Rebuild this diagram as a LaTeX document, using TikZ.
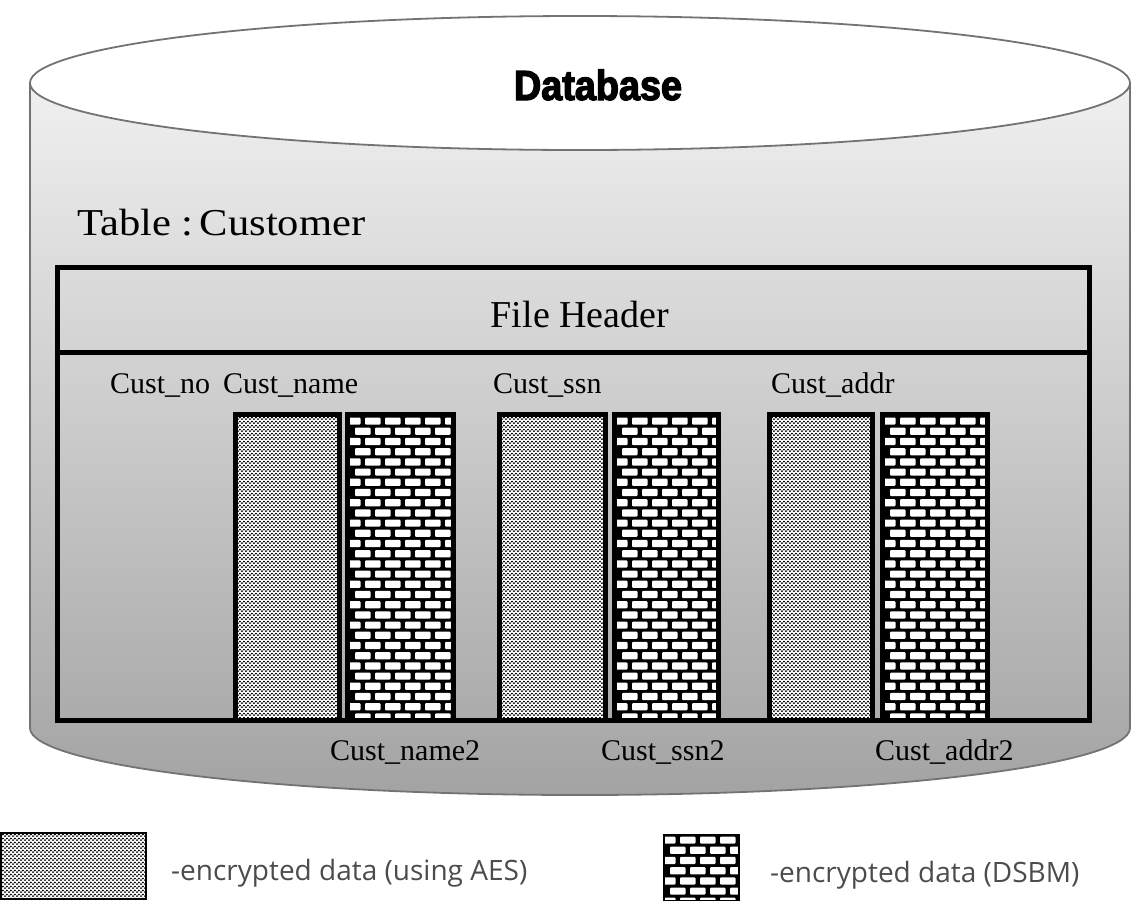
\documentclass[tikz,border=0pt]{standalone}
\usepackage{fontspec}
\setmainfont{Liberation Serif}
\newfontfamily\headfont{Liberation Sans}[BoldFeatures={FakeBold=3,FakeStretch=0.9}]
\newfontfamily\tablefont{Liberation Serif}[FakeStretch=1.12]
\newfontfamily\legendfont{Open Sans}
\usetikzlibrary{patterns.meta}

% fine staggered halftone dots for the AES columns
\tikzdeclarepattern{
  name=aesdots,
  type=uncolored,
  bottom left={(0pt,0pt)},
  top right={(4.4pt,4pt)},
  tile size={(4.4pt,4pt)},
  code={\fill (1.1pt,1pt) circle (1.2pt); \fill (3.3pt,3pt) circle (1.2pt);}
}

% brick wall inside the rectangle #1,#2 (top left) -- #3,#4 (bottom right)
\newcommand\brickwall[4]{%
  \begin{scope}
    \clip (#1,#2) rectangle (#3,#4);
    \fill[black] (#1,#2) rectangle (#3,#4);
    \foreach \r in {0,...,31} {
      \pgfmathsetmacro\yy{#2+\r*10.2+1.5}
      \pgfmathsetmacro\xo{#1-4+mod(\r,2)*10}
      \foreach \c in {0,...,6} {
        \fill[white,rounded corners=1pt] (\xo+\c*20,\yy) rectangle ++(15.5,7.2);
      }
    }
  \end{scope}}

\tikzset{
  rim/.style={draw=black!55,line width=1.8pt},
  tableline/.style={draw=black,line width=5pt},
  colbox/.style={draw=black,line width=5pt},
  aesfill/.style={fill=white,postaction={pattern=aesdots,pattern color=black}},
  colname/.style={font=\fontsize{30}{32}\selectfont,anchor=base west,inner sep=0pt},
  legendtext/.style={font=\legendfont\fontsize{28}{30}\selectfont,text=black!70,anchor=base west,inner sep=0pt}
}

\begin{document}
\begin{tikzpicture}[x=1pt,y=-1pt]
\useasboundingbox (0,0) rectangle (1138,900);

% cylinder body
\shade[top color=black!6,bottom color=black!36]
  (30,83) -- (30,728) arc[start angle=180,end angle=0,x radius=550,y radius=67]
  -- (1130,83) -- cycle;
\draw[rim] (30,83) -- (30,728) arc[start angle=180,end angle=0,x radius=550,y radius=67]
  -- (1130,83);
% top face
\draw[rim,fill=white] (580,83) ellipse[x radius=550,y radius=67];
\node[font=\headfont\bfseries\fontsize{42}{44}\selectfont,anchor=base,inner sep=0pt] (db) at (598,100) {Database};

% table title
\node[font=\tablefont\fontsize{38}{40}\selectfont,anchor=base west,inner sep=0pt] (tbl) at (77,235) {Table :\,Customer};

% AES columns
\foreach \a/\b in {233/342,497/608,767/875} {
  \path[aesfill] (\a+2.5,414.5) rectangle (\b-2.5,720.5);
}
% DSBM columns
\foreach \a/\b in {345/456,612/721,880/990} {
  \brickwall{\a+4}{416}{\b-4}{718}
}
\foreach \a/\b in {233/342,497/608,767/875,345/456,612/721,880/990} {
  \draw[colbox] (\a+2.5,414.5) rectangle (\b-2.5,720.5);
}

% table frame and header row
\draw[tableline] (57.5,267.5) rectangle (1089.5,720.5);
\draw[tableline] (57.5,352) -- (1089.5,352);
\node[font=\fontsize{38}{40}\selectfont,anchor=base,inner sep=0pt] (hdr) at (580,327) {File Header};

% column names
\node[colname] (no)    at (110,393) {Cust\_no};
\node[colname] (name)  at (223,393) {Cust\_name};
\node[colname] (ssn)   at (493,393) {Cust\_ssn};
\node[colname] (addr)  at (771,393) {Cust\_addr};
\node[colname] (name2) at (330,760) {Cust\_name2};
\node[colname] (ssn2)  at (601,760) {Cust\_ssn2};
\node[colname] (addr2) at (875,760) {Cust\_addr2};

% legend
\path[aesfill] (1,833) rectangle (146,899);
\draw[black,line width=2pt] (1,833) rectangle (146,899);
\node[legendtext] (legA) at (171,880) {-encrypted data (using AES)};
\brickwall{664}{835}{739}{900}
\draw[black,line width=2pt] (664,835) rectangle (739,901);
\node[legendtext] (legB) at (770,882) {-encrypted data (DSBM)};
\end{tikzpicture}
\end{document}
